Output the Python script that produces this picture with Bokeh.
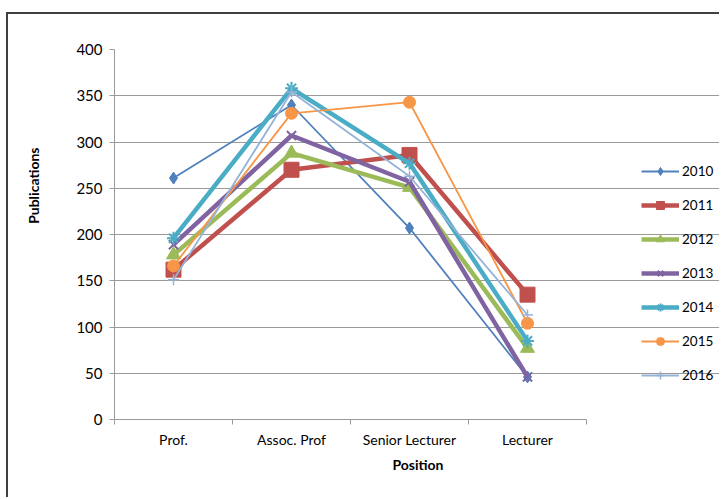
from bokeh.plotting import figure
from bokeh.models import Range1d, FixedTicker, Legend, LegendItem, LinearAxis, Title
from bokeh.embed import file_html
from bokeh.resources import INLINE

categories = ["Prof.", "Assoc. Prof", "Senior Lecturer", "Lecturer"]
years = ["2010", "2011", "2012", "2013", "2014", "2015", "2016"]
v2010 = [261, 340, 207, 46]
v2011 = [162, 270, 286, 135]
v2012 = [178, 288, 251, 77]
v2013 = [189, 307, 257, 46]
v2014 = [196, 358, 277, 85]
v2015 = [166, 331, 343, 104]
v2016 = [151, 354, 263, 113]
y_ticks = [0, 50, 100, 150, 200, 250, 300, 350, 400]

series = [v2010, v2011, v2012, v2013, v2014, v2015, v2016]
colors = ["#4F81BD", "#C0504D", "#9BBB59", "#8064A2", "#4BACC6", "#F79646", "#95B3D7"]
widths = [1.8, 4.5, 4.5, 4.5, 4.5, 1.8, 1.8]
markers = ["diamond", "square", "triangle", "x", "asterisk", "circle", "cross"]
msizes = [12, 15, 14, 13, 13, 12, 11]
mlw = [1, 1, 1, 2, 2, 1, 1.5]

FONT = "Lato"

W, H = 713, 485
LEFT, TOP, BOTTOM = 106, 35, 80
PLOT_W = 472               # pixel width of the category area
FRAME_W = W - LEFT         # frame extends under the legend
n = len(categories)

p = figure(width=W, height=H, output_backend="svg", toolbar_location=None,
           x_range=Range1d(0, n * FRAME_W / PLOT_W), y_range=Range1d(0, 400),
           min_border_left=LEFT, min_border_right=0, min_border_top=TOP, min_border_bottom=BOTTOM)
p.outline_line_color = None
p.xgrid.grid_line_color = None
p.ygrid.grid_line_color = "#9A9A9A"
p.ygrid.grid_line_width = 1
p.ygrid.bounds = (0, n)

xs = [i + 0.5 for i in range(n)]

items = []
for yr, vals, c, w, m, ms, lw in zip(years, series, colors, widths, markers, msizes, mlw):
    r1 = p.line(xs, vals, line_color=c, line_width=w)
    r2 = p.scatter(xs, vals, marker=m, size=ms, line_color=c, fill_color=c, line_width=lw)
    items.append(LegendItem(label=yr, renderers=[r1, r2]))

legend = Legend(items=items, location=(527, 34), glyph_width=38, glyph_height=20,
                label_height=20, spacing=14, padding=0, margin=0, label_standoff=3,
                border_line_color=None, background_fill_alpha=0,
                label_text_font=FONT, label_text_font_size="13.5px", label_text_color="#000000")
p.add_layout(legend, "center")

# y axis
ya = p.yaxis[0]
ya.ticker = FixedTicker(ticks=y_ticks)
ya.axis_line_color = "#9A9A9A"
ya.major_tick_line_color = "#9A9A9A"
ya.major_tick_out = 5
ya.major_tick_in = 0
ya.minor_tick_line_color = None
ya.major_label_text_font = FONT
ya.major_label_text_font_size = "15px"
ya.major_label_text_color = "#000000"
ya.major_label_standoff = 7

# blank spacer axis, then the y title (Excel places it above centre)
p.extra_y_ranges = {"spacer": Range1d(0, 400)}
spacer = LinearAxis(y_range_name="spacer", ticker=FixedTicker(ticks=[]),
                    axis_line_color=None, major_tick_line_color=None,
                    minor_tick_line_color=None, major_tick_out=0, major_tick_in=0,
                    minor_tick_out=0, minor_tick_in=0,
                    axis_label=" ", axis_label_standoff=7,
                    axis_label_text_font=FONT, axis_label_text_font_size="14px")
p.add_layout(spacer, "left")

ytitle = Title(text="Publications", align="right", offset=98,
               text_font=FONT, text_font_style="bold", text_font_size="14px", text_color="#000000")
p.add_layout(ytitle, "left")

# x axis
xa = p.xaxis[0]
xa.bounds = (0, n)
xa.ticker = FixedTicker(ticks=xs, minor_ticks=list(range(n + 1)))
xa.major_label_overrides = {x: c for x, c in zip(xs, categories)}
xa.axis_line_color = "#9A9A9A"
xa.major_tick_out = 0
xa.major_tick_in = 0
xa.minor_tick_out = 5
xa.minor_tick_in = 0
xa.minor_tick_line_color = "#9A9A9A"
xa.major_label_text_font = FONT
xa.major_label_text_font_size = "14px"
xa.major_label_text_color = "#000000"
xa.major_label_standoff = 6
xa.axis_label = "Position"
xa.axis_label_text_font = FONT
xa.axis_label_text_font_style = "bold"
xa.axis_label_text_font_size = "14px"
xa.axis_label_text_color = "#000000"
xa.axis_label_standoff = 5

p.styles = {"margin-left": "6px", "margin-top": "12px",
            "border-left": "2px solid #404040", "border-top": "2px solid #404040"}

open("out.html", "w").write(file_html(p, INLINE))
